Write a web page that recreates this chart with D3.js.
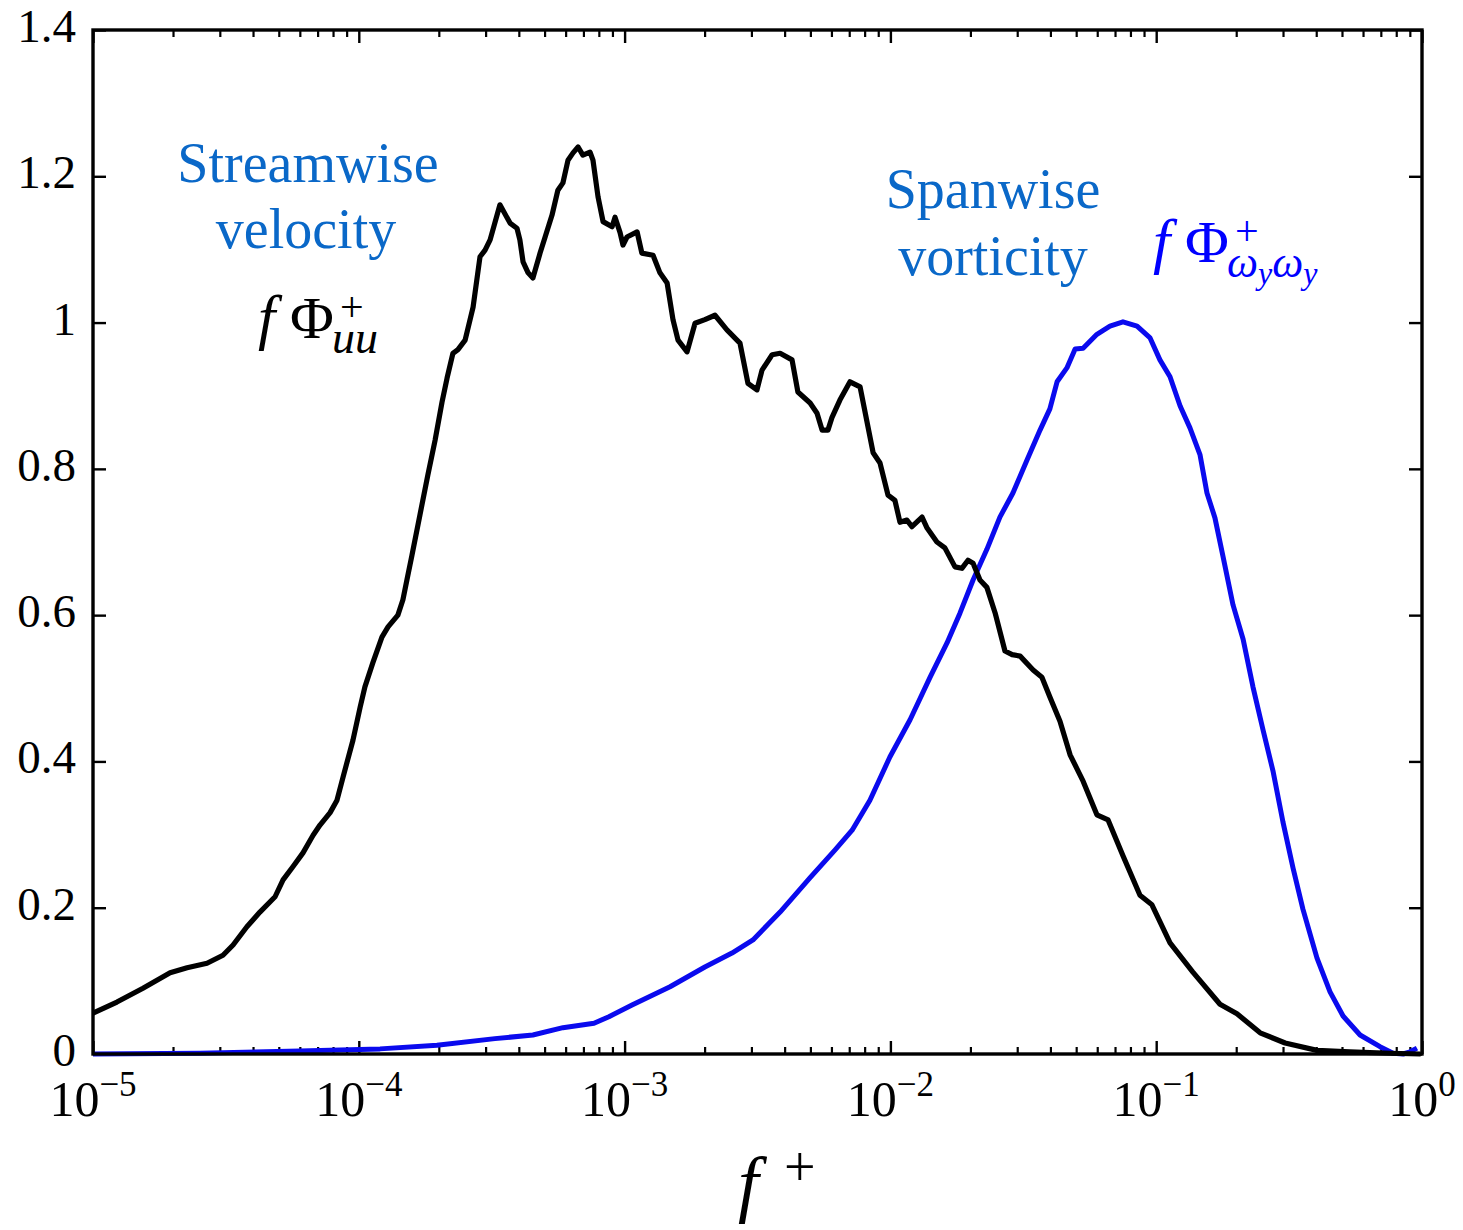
<!DOCTYPE html>
<html>
<head>
<meta charset="utf-8">
<script src="https://cdn.jsdelivr.net/npm/d3@7"></script>
<style>
  html, body { margin: 0; padding: 0; background: #fff; }
  svg { display: block; }
  text { font-family: "Liberation Serif", "DejaVu Serif", serif; }
</style>
</head>
<body>
<svg id="chart" width="1463" height="1230"></svg>
<script>
// Premultiplied spectra f·Φ⁺ against log10(f⁺)
const uuLogF = [-5.000,-4.910,-4.812,-4.710,-4.646,-4.571,-4.511,-4.473,-4.421,-4.372,-4.315,-4.285,-4.248,-4.210,-4.172,-4.146,-4.108,-4.082,-4.059,-4.022,-3.995,-3.977,-3.947,-3.913,-3.890,-3.853,-3.834,-3.819,-3.800,-3.770,-3.740,-3.713,-3.687,-3.668,-3.646,-3.627,-3.600,-3.570,-3.544,-3.525,-3.506,-3.469,-3.431,-3.405,-3.394,-3.382,-3.363,-3.345,-3.318,-3.299,-3.273,-3.251,-3.232,-3.213,-3.194,-3.175,-3.157,-3.130,-3.119,-3.100,-3.081,-3.047,-3.036,-3.017,-3.006,-2.991,-2.953,-2.935,-2.893,-2.867,-2.840,-2.818,-2.799,-2.765,-2.735,-2.698,-2.660,-2.615,-2.566,-2.536,-2.502,-2.483,-2.445,-2.415,-2.370,-2.348,-2.302,-2.276,-2.257,-2.235,-2.220,-2.190,-2.152,-2.114,-2.065,-2.039,-2.009,-1.983,-1.964,-1.938,-1.919,-1.881,-1.862,-1.825,-1.795,-1.757,-1.731,-1.708,-1.689,-1.663,-1.637,-1.606,-1.569,-1.542,-1.512,-1.463,-1.430,-1.400,-1.362,-1.324,-1.275,-1.223,-1.181,-1.125,-1.061,-1.016,-0.948,-0.862,-0.760,-0.696,-0.609,-0.515,-0.395,-0.271,-0.120,-0.005];
const uuValue = [0.056,0.071,0.090,0.111,0.118,0.124,0.135,0.149,0.174,0.194,0.215,0.238,0.256,0.275,0.299,0.313,0.330,0.347,0.379,0.429,0.474,0.502,0.535,0.570,0.584,0.600,0.621,0.648,0.682,0.737,0.792,0.839,0.891,0.924,0.958,0.963,0.976,1.021,1.090,1.099,1.113,1.161,1.136,1.129,1.113,1.083,1.068,1.061,1.095,1.117,1.147,1.181,1.191,1.222,1.232,1.240,1.229,1.233,1.222,1.172,1.138,1.131,1.144,1.123,1.106,1.117,1.124,1.095,1.092,1.068,1.054,1.004,0.976,0.960,0.999,1.004,1.010,0.990,0.972,0.917,0.908,0.935,0.956,0.958,0.949,0.905,0.890,0.876,0.853,0.853,0.870,0.894,0.919,0.912,0.822,0.808,0.764,0.757,0.727,0.730,0.721,0.734,0.719,0.700,0.692,0.666,0.664,0.675,0.671,0.648,0.638,0.603,0.551,0.546,0.544,0.525,0.515,0.488,0.455,0.409,0.373,0.327,0.320,0.271,0.217,0.204,0.152,0.112,0.068,0.055,0.029,0.015,0.005,0.003,0.001,0.000];

const wwLogF = [-5.000,-4.597,-4.221,-3.920,-3.706,-3.488,-3.345,-3.232,-3.115,-3.059,-2.972,-2.829,-2.698,-2.596,-2.517,-2.415,-2.302,-2.208,-2.144,-2.077,-2.002,-1.926,-1.851,-1.787,-1.738,-1.689,-1.637,-1.588,-1.539,-1.486,-1.437,-1.400,-1.373,-1.336,-1.305,-1.275,-1.223,-1.174,-1.125,-1.072,-1.023,-0.986,-0.948,-0.910,-0.873,-0.835,-0.809,-0.779,-0.749,-0.711,-0.673,-0.636,-0.598,-0.560,-0.523,-0.485,-0.448,-0.395,-0.346,-0.297,-0.233,-0.158,-0.109,-0.071,-0.045,-0.019];
const wwValue = [0.000,0.001,0.004,0.007,0.012,0.021,0.026,0.036,0.042,0.051,0.067,0.092,0.119,0.138,0.156,0.194,0.241,0.279,0.306,0.347,0.406,0.457,0.515,0.562,0.603,0.648,0.690,0.734,0.767,0.812,0.853,0.882,0.919,0.938,0.964,0.965,0.984,0.995,1.001,0.995,0.979,0.949,0.926,0.886,0.856,0.819,0.767,0.733,0.681,0.614,0.567,0.502,0.443,0.386,0.317,0.254,0.198,0.131,0.085,0.052,0.026,0.010,0.001,0.000,0.003,0.008];

const xDecades = [-5, -4, -3, -2, -1, 0];
const yTicks = [0, 0.2, 0.4, 0.6, 0.8, 1, 1.2, 1.4];
const yTickLabels = ["0", "0.2", "0.4", "0.6", "0.8", "1", "1.2", "1.4"];

const svg = d3.select("#chart");
const mLeft = 93, mRight = 1422, mTop = 30, mBottom = 1054;

const x = d3.scaleLog().domain([1e-5, 1]).range([mLeft, mRight]);
const y = d3.scaleLinear().domain([0, 1.4]).range([mBottom, mTop]);

const majorX = xDecades.map(d => Math.pow(10, d));
const minorX = [];
xDecades.slice(0, -1).forEach(d => {
  for (let k = 2; k <= 9; k++) minorX.push(k * Math.pow(10, d));
});

const W = mRight - mLeft, H = mBottom - mTop;

function styleAxis(g, width) {
  g.select(".domain").remove();
  g.selectAll(".tick line").attr("stroke", "#000").attr("stroke-width", width);
  g.selectAll(".tick text").remove();
}

// ticks point inward on all four sides
svg.append("g").attr("transform", `translate(0,${mBottom})`)
  .call(d3.axisBottom(x).tickValues(majorX).tickSize(-13).tickFormat(""))
  .call(g => styleAxis(g, 2.4));
svg.append("g").attr("transform", `translate(0,${mBottom})`)
  .call(d3.axisBottom(x).tickValues(minorX).tickSize(-7).tickFormat(""))
  .call(g => styleAxis(g, 2.2));
svg.append("g").attr("transform", `translate(0,${mTop})`)
  .call(d3.axisTop(x).tickValues(majorX).tickSize(-13).tickFormat(""))
  .call(g => styleAxis(g, 2.4));
svg.append("g").attr("transform", `translate(0,${mTop})`)
  .call(d3.axisTop(x).tickValues(minorX).tickSize(-7).tickFormat(""))
  .call(g => styleAxis(g, 2.2));
svg.append("g").attr("transform", `translate(${mLeft},0)`)
  .call(d3.axisLeft(y).tickValues(yTicks).tickSize(-13).tickFormat(""))
  .call(g => styleAxis(g, 2.4));
svg.append("g").attr("transform", `translate(${mRight},0)`)
  .call(d3.axisRight(y).tickValues(yTicks).tickSize(-13).tickFormat(""))
  .call(g => styleAxis(g, 2.4));

// y tick labels
svg.append("g").selectAll("text").data(yTicks).join("text")
  .attr("x", 76).attr("y", d => y(d) + 12)
  .attr("text-anchor", "end")
  .attr("font-size", 47)
  .attr("fill", "#000")
  .text((d, i) => yTickLabels[i]);

// x tick labels: 10 with superscript exponent
const xl = svg.append("g").selectAll("text").data(xDecades).join("text")
  .attr("x", d => x(Math.pow(10, d)))
  .attr("y", 1116)
  .attr("text-anchor", "middle")
  .attr("font-size", 50)
  .attr("fill", "#000");
xl.append("tspan").text("10");
xl.append("tspan").attr("dy", -20).attr("font-size", 35)
  .text(d => d === 0 ? "0" : "\u2212" + Math.abs(d));

// curves
const line = d3.line()
  .x(d => x(Math.pow(10, d[0])))
  .y(d => y(d[1]));

svg.append("path")
  .datum(wwLogF.map((f, i) => [f, wwValue[i]]))
  .attr("fill", "none").attr("stroke", "#0a0aee")
  .attr("stroke-width", 5).attr("stroke-linejoin", "round")
  .attr("d", line);

svg.append("path")
  .datum(uuLogF.map((f, i) => [f, uuValue[i]]))
  .attr("fill", "none").attr("stroke", "#000")
  .attr("stroke-width", 5.2).attr("stroke-linejoin", "round")
  .attr("d", line);

// frame
svg.append("rect")
  .attr("x", mLeft).attr("y", mTop).attr("width", W).attr("height", H)
  .attr("fill", "none").attr("stroke", "#000").attr("stroke-width", 3.4);

// annotations
const labelBlue = "#0a68c8";
svg.append("text").attr("x", 308).attr("y", 182).attr("text-anchor", "middle")
  .attr("font-size", 56).attr("fill", labelBlue).text("Streamwise");
svg.append("text").attr("x", 306).attr("y", 248).attr("text-anchor", "middle")
  .attr("font-size", 56).attr("fill", labelBlue).text("velocity");
svg.append("text").attr("x", 993).attr("y", 208).attr("text-anchor", "middle")
  .attr("font-size", 56).attr("fill", labelBlue).text("Spanwise");
svg.append("text").attr("x", 993).attr("y", 275).attr("text-anchor", "middle")
  .attr("font-size", 56).attr("fill", labelBlue).text("vorticity");

// symbol f Φ⁺ with subscript, one text element built from positioned tspans
function phiLabel(x0, base, color, subParts) {
  const t = svg.append("text").attr("fill", color).attr("y", base);
  t.append("tspan").attr("x", x0).attr("y", base)
    .attr("font-size", 62).attr("font-style", "italic").text("f");
  t.append("tspan").attr("x", x0 + 32).attr("y", base)
    .attr("font-size", 60).text("\u03A6");
  t.append("tspan").attr("x", x0 + 82).attr("y", base - 17)
    .attr("font-size", 42).text("+");
  let first = true;
  let yy = base + 15;
  subParts.forEach(p => {
    yy += p.dy;
    const s = t.append("tspan").attr("y", yy)
      .attr("font-size", p.size).attr("font-style", "italic").text(p.t);
    if (first) { s.attr("x", x0 + 74); first = false; }
  });
  return t;
}

phiLabel(258, 338, "#000", [{ t: "uu", size: 46, dy: 0 }]);
phiLabel(1153, 262, "#0000ff", [
  { t: "\u03C9", size: 44, dy: 0 },
  { t: "y", size: 32, dy: 7 },
  { t: "\u03C9", size: 44, dy: -7 },
  { t: "y", size: 32, dy: 7 }
]);

// x axis title f⁺
const tx = svg.append("text").attr("fill", "#000");
tx.append("tspan").attr("x", 738).attr("y", 1208)
  .attr("font-size", 74).attr("font-style", "italic").text("f");
tx.append("tspan").attr("x", 784).attr("y", 1186)
  .attr("font-size", 56).text("+");
</script>
</body>
</html>
